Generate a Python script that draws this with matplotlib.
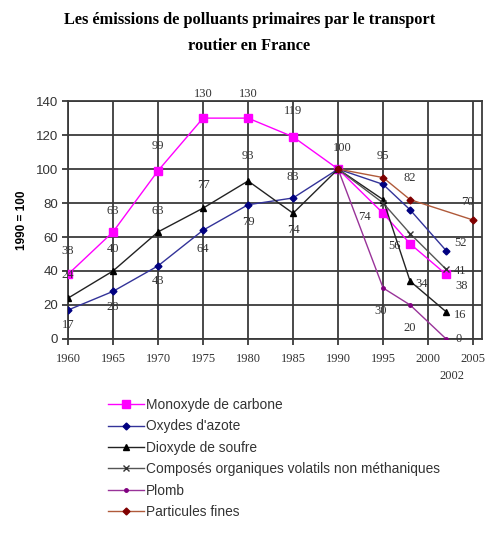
import matplotlib
matplotlib.use("Agg")
import matplotlib.pyplot as plt

# donnees (base 100 en 1990)
years = [1960, 1965, 1970, 1975, 1980, 1985, 1990, 1995, 1998, 2002]
co = [38, 63, 99, 130, 130, 119, 100, 74, 56, 38]
nox = [17, 28, 43, 64, 79, 83, 100, 91, 76, 52]
so2 = [24, 40, 63, 77, 93, 74, 100, 82, 34, 16]
years_recent = [1990, 1995, 1998, 2002]
covnm = [100, 80, 62, 41]
plomb = [100, 30, 20, 0]
years_pm = [1990, 1995, 1998, 2005]
pm = [100, 95, 82, 70]

labels = ["Monoxyde de carbone", "Oxydes d'azote", "Dioxyde de soufre",
          "Composés organiques volatils non méthaniques", "Plomb", "Particules fines"]
xticks = [1960, 1965, 1970, 1975, 1980, 1985, 1990, 1995, 2000, 2005]
yticks = [0, 20, 40, 60, 80, 100, 120, 140]

# which points get a value label, and where (offset in pixels)
co_lab = [(0, 23), (0, 21), (0, 25), (0, 24), (0, 24), (0, 26), (4, 21), (-19, -4), (-16, -2), (15, -12)]
nox_lab = [(0, -15), (0, -16), (0, -15), (0, -19), (0, -17), (0, 21), None, None, None, (14, 8)]
so2_lab = [(0, 23), (0, 22), (0, 21), (0, 23), (0, 25), (0, -17), None, None, (12, -3), (14, -3)]
cov_lab = [None, None, None, (14, -2)]
pb_lab = [None, (-2, -23), (0, -23), (12, 0)]
pm_lab = [None, (0, 22), (0, 22), (-6, 18)]

fig = plt.figure(figsize=(4.89, 5.38), dpi=100)
ax = fig.add_axes([0.139, 0.370, 0.847, 0.442])

series = [
    (years, co, "#FF00FF", "s", 5.5, "#FF00FF", co_lab),
    (years, nox, "#333399", "D", 3.5, "#000080", nox_lab),
    (years, so2, "#222222", "^", 5, "#000000", so2_lab),
    (years_recent, covnm, "#555555", "x", 4, "#333333", cov_lab),
    (years_recent, plomb, "#993399", "o", 2.5, "#800080", pb_lab),
    (years_pm, pm, "#B05A3A", "D", 3.5, "#800000", pm_lab),
]

handles = []
for (x, y, col, mk, ms, mcol, labs), name in zip(series, labels):
    h, = ax.plot(x, y, color=col, lw=1, marker=mk, ms=ms, mfc=mcol, mec=mcol,
                 label=name, zorder=3)
    handles.append(h)
    for xi, yi, off in zip(x, y, labs):
        if off is None:
            continue
        ax.annotate(str(yi), (xi, yi), xytext=off, textcoords="offset pixels",
                    ha="center", va="center", fontsize=9, color="#333333",
                    family="Liberation Serif", zorder=4)

ax.set_xlim(1960, 2006)
ax.set_ylim(0, 140)
ax.set_xticks(xticks)
ax.set_yticks(yticks)
ax.grid(True, color="#3a3a3a", lw=1.3)
ax.set_axisbelow(True)
for s in ax.spines.values():
    s.set_color("#3a3a3a")
    s.set_linewidth(1.3)
ax.tick_params(axis="both", direction="out", length=4, color="#3a3a3a", width=1.3)
ax.tick_params(axis="x", pad=6)
ax.tick_params(axis="y", pad=3)
for t in ax.get_xticklabels():
    t.set_family("Liberation Serif")
    t.set_fontsize(9)
    t.set_color("#333333")
for t in ax.get_yticklabels():
    t.set_family("Liberation Sans")
    t.set_fontsize(9.5)
    t.set_color("#333333")

ax.set_ylabel("1990 = 100", fontsize=8.5, fontweight="bold", family="Liberation Sans", labelpad=6)
fig.text(452 / 489, 1 - 376 / 538, "2002", ha="center", va="center", fontsize=9,
         family="Liberation Serif", color="#333333")

fig.text(0.51, 1 - 20 / 538, "Les émissions de polluants primaires par le transport",
         ha="center", va="center", fontsize=11.8, fontweight="bold", family="Liberation Serif")
fig.text(0.51, 1 - 46 / 538, "routier en France",
         ha="center", va="center", fontsize=11.8, fontweight="bold", family="Liberation Serif")

fig.legend(handles=handles, loc="upper left", bbox_to_anchor=(108 / 489, 1 - 398 / 538),
           frameon=False, handlelength=2.6, handletextpad=0.15, labelspacing=0.54,
           borderpad=0, borderaxespad=0, prop={"family": "Liberation Sans", "size": 9.9},
           labelcolor="#333333")

fig.savefig("out.png", dpi=100)
